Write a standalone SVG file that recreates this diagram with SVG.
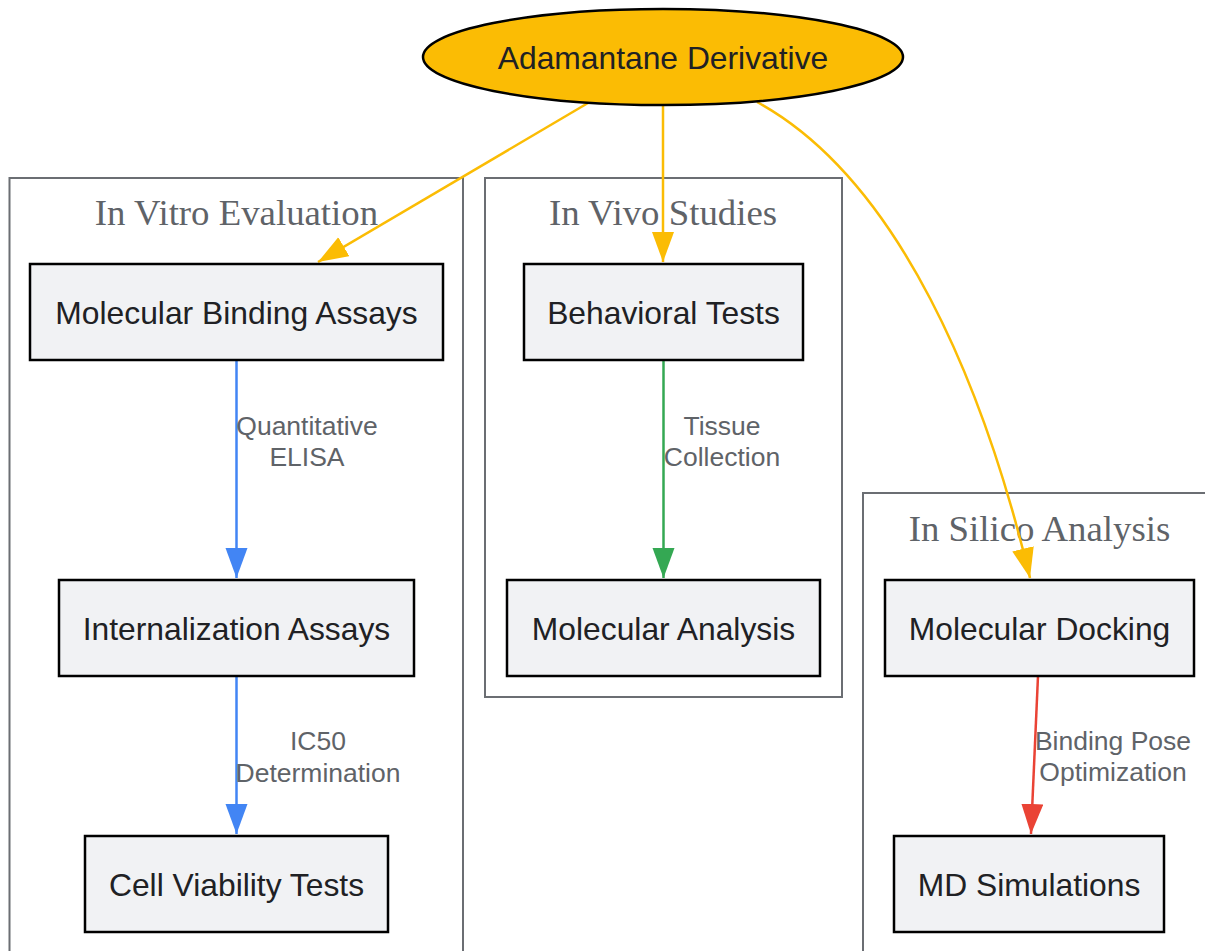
<svg xmlns="http://www.w3.org/2000/svg" width="1205" height="951" viewBox="0 0 1205 951">
<style>
.cl{fill:none;stroke:#6b6e73;stroke-width:2}
.ct{font-family:"Liberation Serif",serif;font-size:36.8px;fill:#5f6368;text-anchor:middle}
.nd{fill:#f1f2f4;stroke:#000;stroke-width:2.5}
.nt{font-family:"Liberation Sans",Arial,sans-serif;font-size:31.8px;fill:#202124;text-anchor:middle}
.el{font-family:"Liberation Sans",Arial,sans-serif;font-size:26.5px;fill:#5f6368;text-anchor:middle}
.e{fill:none;stroke-width:2.5}
</style>
<defs>
<marker id="ay" markerUnits="userSpaceOnUse" markerWidth="32" markerHeight="24" refX="30" refY="11" orient="auto"><path d="M0,0L30,11L0,22z" fill="#fbbc04"/></marker>
<marker id="ab" markerUnits="userSpaceOnUse" markerWidth="32" markerHeight="24" refX="30" refY="11" orient="auto"><path d="M0,0L30,11L0,22z" fill="#4285f4"/></marker>
<marker id="ag" markerUnits="userSpaceOnUse" markerWidth="32" markerHeight="24" refX="30" refY="11" orient="auto"><path d="M0,0L30,11L0,22z" fill="#34a853"/></marker>
<marker id="ar" markerUnits="userSpaceOnUse" markerWidth="32" markerHeight="24" refX="30" refY="11" orient="auto"><path d="M0,0L30,11L0,22z" fill="#ea4335"/></marker>
</defs>
<rect width="1205" height="951" fill="#fff"/>
<g id="clusters">
<g id="cluster-invitro"><rect class="cl" x="9.5" y="178" width="453.5" height="790"/><text class="ct" x="236.5" y="225">In Vitro Evaluation</text></g>
<g id="cluster-invivo"><rect class="cl" x="485" y="178" width="357" height="519"/><text class="ct" x="663" y="225">In Vivo Studies</text></g>
<g id="cluster-insilico"><rect class="cl" x="863" y="493" width="360" height="480"/><text class="ct" x="1039.5" y="541">In Silico Analysis</text></g>
</g>
<g id="connectors">
<path class="e" stroke="#fbbc04" d="M588,103L318,262" marker-end="url(#ay)"/>
<path class="e" stroke="#fbbc04" d="M663,105L663,262" marker-end="url(#ay)"/>
<path class="e" stroke="#fbbc04" d="M757,102C900,180 985,390 1030,578" marker-end="url(#ay)"/>
<path class="e" stroke="#4285f4" d="M236.5,360L236.5,578" marker-end="url(#ab)"/>
<path class="e" stroke="#4285f4" d="M236.5,676L236.5,834" marker-end="url(#ab)"/>
<path class="e" stroke="#34a853" d="M663.5,360L663.5,578" marker-end="url(#ag)"/>
<path class="e" stroke="#ea4335" d="M1038,676L1031,834" marker-end="url(#ar)"/>
<g id="edge-labels">
<text class="el" x="307" y="435">Quantitative</text><text class="el" x="307" y="466">ELISA</text>
<text class="el" x="722" y="435">Tissue</text><text class="el" x="722" y="466">Collection</text>
<text class="el" x="318" y="750">IC50</text><text class="el" x="318" y="782">Determination</text>
<text class="el" x="1113" y="750">Binding Pose</text><text class="el" x="1113" y="781">Optimization</text>
</g>
</g>
<g id="node-adamantane"><ellipse cx="663" cy="57" rx="240" ry="48" fill="#fbbc04" stroke="#000" stroke-width="2.5"/><text class="nt" x="663" y="68.5">Adamantane Derivative</text></g>
<g id="node-binding"><rect class="nd" x="30" y="264" width="413" height="96"/><text class="nt" x="236.5" y="323.5">Molecular Binding Assays</text></g>
<g id="node-internalization"><rect class="nd" x="59" y="580" width="355" height="96"/><text class="nt" x="236.5" y="639.5">Internalization Assays</text></g>
<g id="node-viability"><rect class="nd" x="85" y="836" width="303" height="96"/><text class="nt" x="236.5" y="895.5">Cell Viability Tests</text></g>
<g id="node-behavioral"><rect class="nd" x="524" y="264" width="279" height="96"/><text class="nt" x="663.5" y="323.5">Behavioral Tests</text></g>
<g id="node-analysis"><rect class="nd" x="507" y="580" width="313" height="96"/><text class="nt" x="663.5" y="639.5">Molecular Analysis</text></g>
<g id="node-docking"><rect class="nd" x="885" y="580" width="309" height="96"/><text class="nt" x="1039.5" y="639.5">Molecular Docking</text></g>
<g id="node-md"><rect class="nd" x="894" y="836" width="270" height="96"/><text class="nt" x="1029" y="895.5">MD Simulations</text></g>
</svg>
